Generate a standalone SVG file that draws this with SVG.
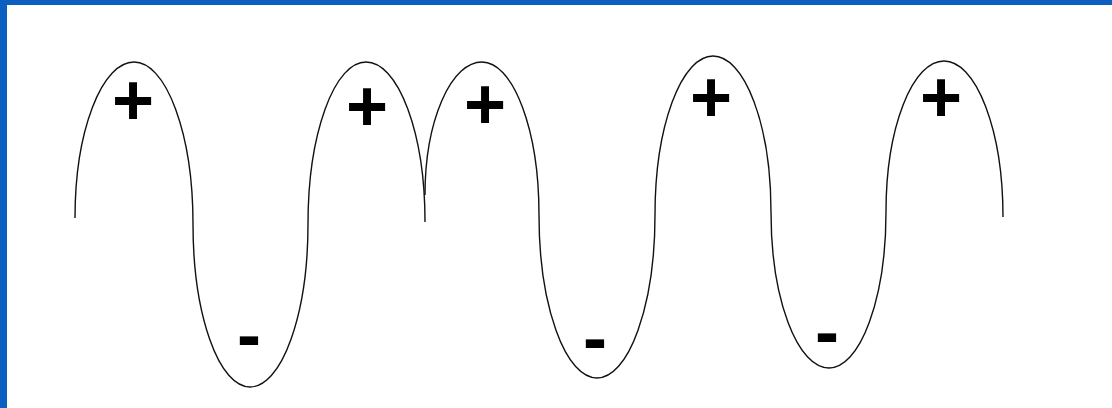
<svg xmlns="http://www.w3.org/2000/svg" width="1112" height="408" viewBox="0 0 1112 408">
  <style>
    .wave { fill: none; stroke: #111; stroke-width: 1.4; }
    .sign { font-family: "Liberation Sans", Arial, sans-serif; font-weight: bold; font-size: 72px; fill: #000; text-anchor: middle; }
  </style>
  <rect x="0" y="0" width="1112" height="408" fill="#ffffff"/>
  <rect x="0" y="0" width="1112" height="5" fill="#0a5fc0"/>
  <rect x="0" y="0" width="7" height="408" fill="#0a5fc0"/>
  <g id="connectors">
    <path id="wave1" class="wave" d="M 75 218 A 59 156 0 0 1 134 62 A 59 162 0 0 1 193 224 A 57 163 0 0 0 250 387 A 58 163 0 0 0 308 224 A 58 162 0 0 1 366 62 A 59 160 0 0 1 425 222"/>
    <path id="wave2" class="wave" d="M 425 195 A 57 133 0 0 1 482 62 A 57 153 0 0 1 539 215 A 58 163 0 0 0 597 378 A 58 163 0 0 0 655 215 A 58 159 0 0 1 713 56 A 58 156 0 0 1 771 212 A 58 156 0 0 0 829 368 A 57 156 0 0 0 886 212 A 58 151 0 0 1 944 61 A 59 156 0 0 1 1003 217"/>
  </g>
  <g id="plus1"><text class="sign" x="133" y="125">+</text></g>
  <g id="plus2"><text class="sign" x="367" y="131">+</text></g>
  <g id="plus3"><text class="sign" x="485" y="129">+</text></g>
  <g id="plus4"><text class="sign" x="711" y="122">+</text></g>
  <g id="plus5"><text class="sign" x="941" y="122">+</text></g>
  <g id="minus1"><text class="sign" x="249" y="359">-</text></g>
  <g id="minus2"><text class="sign" x="595" y="362">-</text></g>
  <g id="minus3"><text class="sign" x="827" y="356">-</text></g>
</svg>
